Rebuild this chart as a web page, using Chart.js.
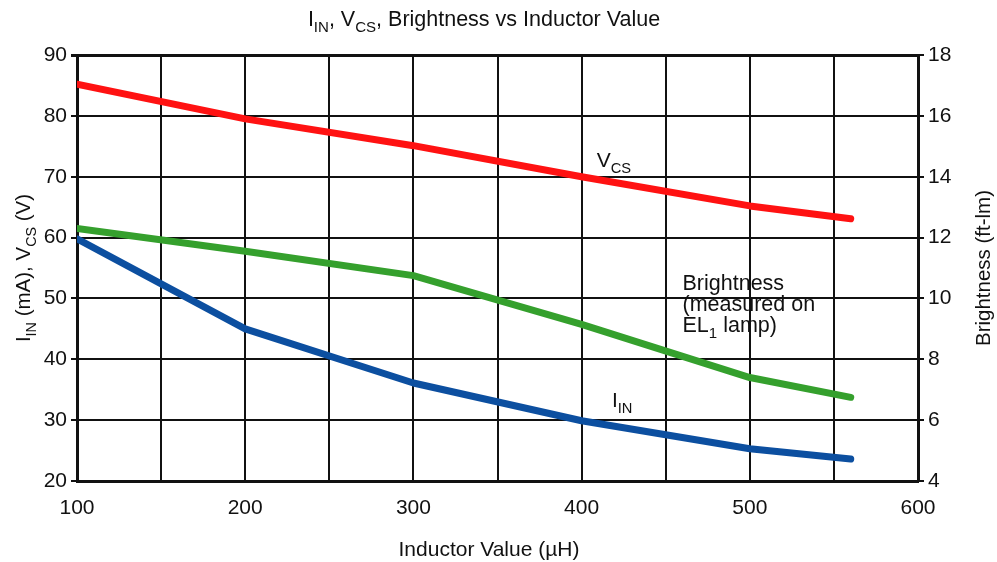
<!DOCTYPE html>
<html>
<head>
<meta charset="utf-8">
<script src="https://cdn.jsdelivr.net/npm/chart.js@4.4.1/dist/chart.umd.min.js"></script>
<style>
  html, body { margin: 0; padding: 0; background: #fff; }
  #wrap { width: 997px; height: 562px; }
</style>
</head>
<body>
<div id="wrap"><canvas id="chart"></canvas></div>
<script>
    // 데이터
    const inductance = [100, 200, 300, 400, 500, 560];
    const vcs = [85.2, 79.5, 75.1, 70.0, 65.2, 63.1];
    const iin = [59.8, 45.0, 36.1, 29.9, 25.3, 23.6];
    const brightness = [12.3, 11.55, 10.75, 9.15, 7.4, 6.75];
    const leftTicks = [20, 30, 40, 50, 60, 70, 80, 90];
    const rightTicks = [4, 6, 8, 10, 12, 14, 16, 18];
    const xTicks = [100, 200, 300, 400, 500, 600];

    const FONT = '"Liberation Sans", Arial, sans-serif';

    const toPoints = (ys) => inductance.map((x, i) => ({ x: x, y: ys[i] }));

    // 아래첨자 텍스트 그리기
    function richWidth(ctx, parts, size) {
        let w = 0;
        parts.forEach(p => {
            ctx.font = (p.sub ? size * 0.7 : size) + 'px ' + FONT;
            w += ctx.measureText(p.t).width;
        });
        return w;
    }
    function drawRich(ctx, parts, x, y, size, align) {
        let w = richWidth(ctx, parts, size);
        let cx = align === 'center' ? x - w / 2 : x;
        ctx.textBaseline = 'alphabetic';
        ctx.textAlign = 'left';
        parts.forEach(p => {
            ctx.font = (p.sub ? size * 0.7 : size) + 'px ' + FONT;
            ctx.fillText(p.t, cx, p.sub ? y + size * 0.28 : y);
            cx += ctx.measureText(p.t).width;
        });
    }

    const labelsPlugin = {
        id: 'labels',
        afterDraw(chart) {
            const ctx = chart.ctx;
            const xs = chart.scales.x, ys = chart.scales.y;
            const area = chart.chartArea;
            ctx.save();
            ctx.fillStyle = '#111';

            // 제목
            drawRich(ctx, [{t: 'I'}, {t: 'IN', sub: true}, {t: ', V'}, {t: 'CS', sub: true},
                {t: ', Brightness vs Inductor Value'}], 484, 26, 21.5, 'center');

            // x축 제목
            drawRich(ctx, [{t: 'Inductor Value (µH)'}], 489, 556, 21, 'center');

            // 왼쪽 축 제목
            ctx.save();
            ctx.translate(30, (area.top + area.bottom) / 2);
            ctx.rotate(-Math.PI / 2);
            drawRich(ctx, [{t: 'I'}, {t: 'IN', sub: true}, {t: ' (mA), V'}, {t: 'CS', sub: true}, {t: ' (V)'}], 0, 0, 20.5, 'center');
            ctx.restore();

            // 오른쪽 축 제목
            ctx.save();
            ctx.translate(990, (area.top + area.bottom) / 2);
            ctx.rotate(-Math.PI / 2);
            drawRich(ctx, [{t: 'Brightness (ft-lm)'}], 0, 0, 20.5, 'center');
            ctx.restore();

            // 곡선 라벨
            const px = v => xs.getPixelForValue(v);
            const py = v => ys.getPixelForValue(v);
            drawRich(ctx, [{t: 'V'}, {t: 'CS', sub: true}], px(409), py(72.7) + 7, 21, 'left');
            drawRich(ctx, [{t: 'Brightness'}], px(460), py(52.5) + 7, 21.5, 'left');
            drawRich(ctx, [{t: '(measured on'}], px(460), py(49.05) + 7, 21.5, 'left');
            drawRich(ctx, [{t: 'EL'}, {t: '1', sub: true}, {t: ' lamp)'}], px(460), py(45.6) + 7, 21.5, 'left');
            drawRich(ctx, [{t: 'I'}, {t: 'IN', sub: true}], px(418), py(33.3) + 7, 21, 'left');
            ctx.restore();
        }
    };

    const lineStyle = {
        borderWidth: 7,
        pointRadius: 0,
        tension: 0,
        fill: false,
        borderCapStyle: 'round',
        borderJoinStyle: 'round'
    };

    window.onload = function () {
        new Chart(document.getElementById('chart'), {
            type: 'line',
            data: {
                datasets: [
                    Object.assign({ label: 'Brightness', data: toPoints(brightness), borderColor: '#35a02d', yAxisID: 'y2' }, lineStyle),
                    Object.assign({ label: 'IIN', data: toPoints(iin), borderColor: '#0c4fa0', yAxisID: 'y' }, lineStyle),
                    Object.assign({ label: 'VCS', data: toPoints(vcs), borderColor: '#ff1212', yAxisID: 'y' }, lineStyle)
                ]
            },
            options: {
                responsive: true,
                maintainAspectRatio: false,
                animation: false,
                layout: { padding: { top: 55, left: 0, right: 0, bottom: 0 } },
                plugins: { legend: { display: false }, tooltip: { enabled: false } },
                scales: {
                    x: {
                        type: 'linear',
                        min: 100,
                        max: 600,
                        afterFit: s => { s.height = 81; },
                        afterBuildTicks: s => {
                            const t = [];
                            for (let v = 100; v <= 600; v += 50) t.push({ value: v });
                            s.ticks = t;
                        },
                        ticks: {
                            padding: 15,
                            color: '#111',
                            font: { family: FONT, size: 21 },
                            maxRotation: 0,
                            autoSkip: false,
                            callback: v => xTicks.includes(v) ? String(v) : ''
                        },
                        grid: { color: '#111', lineWidth: 2, drawTicks: false },
                        border: { color: '#111', width: 3 }
                    },
                    y: {
                        position: 'left',
                        min: 20,
                        max: 90,
                        afterFit: s => { s.width = 77; },
                        afterBuildTicks: s => { s.ticks = leftTicks.map(v => ({ value: v })); },
                        ticks: { padding: 4, color: '#111', font: { family: FONT, size: 21 } },
                        grid: {
                            color: '#111',
                            lineWidth: c => (c.tick && c.tick.value === 90) ? 3 : 2,
                            tickLength: 6
                        },
                        border: { color: '#111', width: 3 }
                    },
                    y2: {
                        position: 'right',
                        min: 4,
                        max: 18,
                        afterFit: s => { s.width = 79; },
                        afterBuildTicks: s => { s.ticks = rightTicks.map(v => ({ value: v })); },
                        ticks: { padding: 4, color: '#111', font: { family: FONT, size: 21 } },
                        grid: { color: '#111', lineWidth: 2, tickLength: 6, drawOnChartArea: false },
                        border: { color: '#111', width: 3 }
                    }
                }
            },
            plugins: [labelsPlugin]
        });
    };
</script>
</body>
</html>
